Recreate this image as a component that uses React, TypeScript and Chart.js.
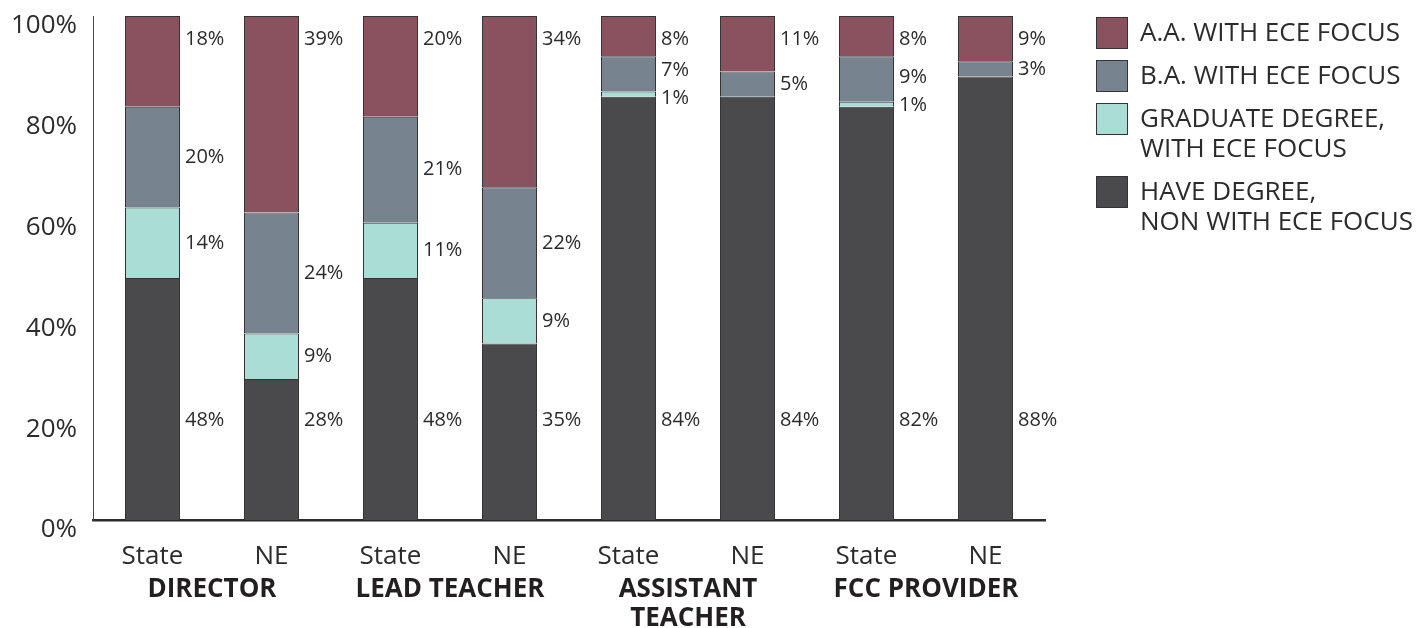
import React, { useEffect, useRef } from "react";
import { Chart, registerables } from "chart.js";

Chart.register(...registerables);

const categories = ["State", "NE", "State", "NE", "State", "NE", "State", "NE"];
const groupLabels: string[][] = [["DIRECTOR"], ["LEAD TEACHER"], ["ASSISTANT", "TEACHER"], ["FCC PROVIDER"]];
const haveDegree = [48, 28, 48, 35, 84, 84, 82, 88];
const graduate = [14, 9, 11, 9, 1, 0, 1, 0];
const baEce = [20, 24, 21, 22, 7, 5, 9, 3];
const aaEce = [18, 39, 20, 34, 8, 11, 8, 9];
const yTicks = [0, 20, 40, 60, 80, 100];

const legendItems: { label: string[]; color: string }[] = [
  { label: ["A.A. WITH ECE FOCUS"], color: "#8a525e" },
  { label: ["B.A. WITH ECE FOCUS"], color: "#77838f" },
  { label: ["GRADUATE DEGREE,", "WITH ECE FOCUS"], color: "#a9ddd6" },
  { label: ["HAVE DEGREE,", "NON WITH ECE FOCUS"], color: "#4a4a4c" },
];

const FONT = "'Open Sans', 'Noto Sans', sans-serif";
const TEXT = "#2b2b2b";

const labelsPlugin = {
  id: "segLabels",
  afterDatasetsDraw(chart: any) {
    const ctx = chart.ctx;
    const yScale = chart.scales.y;
    const n = chart.data.labels.length;
    ctx.save();
    ctx.font = `20px ${FONT}`;
    ctx.fillStyle = TEXT;
    ctx.textAlign = "left";
    ctx.textBaseline = "middle";
    for (let j = 0; j < n; j++) {
      const items: { y: number; text: string; x: number }[] = [];
      let cum = 0;
      chart.data.datasets.forEach((ds: any, i: number) => {
        const v = ds.data[j];
        const meta = chart.getDatasetMeta(i);
        const bar = meta.data[j];
        const x = bar.x + bar.width / 2 + 5;
        if (v > 0) {
          let yv: number;
          if (i === 0) yv = 19.8;
          else if (i === 3) yv = 95.4;
          else yv = cum + v / 2;
          items.push({ y: yScale.getPixelForValue(yv), text: v + "%", x });
        }
        cum += v;
      });
      items.sort((a, b) => a.y - b.y);
      const minGap = 28;
      for (let k = 0; k < items.length - 1; k++) {
        const a = items[k];
        const b = items[k + 1];
        if (b.y - a.y < minGap) {
          const mid = (a.y + b.y) / 2;
          a.y = mid - minGap / 2;
          b.y = mid + minGap / 2;
        }
      }
      items.forEach((it) => ctx.fillText(it.text, it.x, it.y));
    }
    ctx.restore();
  },
  afterDraw(chart: any) {
    const ctx = chart.ctx;
    const xScale = chart.scales.x;
    ctx.save();
    // group labels
    ctx.font = `bold 26px ${FONT}`;
    ctx.fillStyle = "#231f20";
    ctx.textAlign = "center";
    ctx.textBaseline = "middle";
    groupLabels.forEach((lines, g) => {
      const cx = (xScale.getPixelForValue(g * 2) + xScale.getPixelForValue(g * 2 + 1)) / 2;
      lines.forEach((ln, li) => ctx.fillText(ln, cx, 590 + li * 29));
    });
    // legend
    let y = 34;
    const sx = 1096;
    legendItems.forEach((item) => {
      ctx.fillStyle = item.color;
      ctx.fillRect(sx, y - 17, 32, 32);
      ctx.strokeStyle = "#333";
      ctx.lineWidth = 1;
      ctx.strokeRect(sx + 0.5, y - 16.5, 31, 31);
      ctx.fillStyle = TEXT;
      ctx.font = `26px ${FONT}`;
      ctx.textAlign = "left";
      item.label.forEach((ln, li) => ctx.fillText(ln, 1140, y + li * 30));
      y += item.label.length * 30 + 13;
    });
    ctx.restore();
  },
};

export default function App() {
  const ref = useRef<HTMLCanvasElement>(null);
  useEffect(() => {
    if (!ref.current) return;
    const border = "#333333";
    const chart = new Chart(ref.current, {
      type: "bar",
      data: {
        labels: categories,
        datasets: [
          { label: "HAVE DEGREE, NON WITH ECE FOCUS", data: haveDegree, backgroundColor: "#4a4a4c", borderColor: border, borderWidth: 1 },
          { label: "GRADUATE DEGREE, WITH ECE FOCUS", data: graduate, backgroundColor: "#a9ddd6", borderColor: border, borderWidth: 1 },
          { label: "B.A. WITH ECE FOCUS", data: baEce, backgroundColor: "#77838f", borderColor: border, borderWidth: 1 },
          { label: "A.A. WITH ECE FOCUS", data: aaEce, backgroundColor: "#8a525e", borderColor: border, borderWidth: 1 },
        ],
      },
      options: {
        responsive: false,
        animation: false,
        datasets: { bar: { categoryPercentage: 1, barPercentage: 0.462 } },
        layout: { padding: { top: 16, right: 377, left: 0, bottom: 0 } },
        plugins: { legend: { display: false }, tooltip: { enabled: false } },
        scales: {
          x: {
            stacked: true,
            grid: { display: false, drawTicks: false },
            border: { display: true, color: "#2b2b2b", width: 2.5 },
            ticks: { color: TEXT, font: { family: FONT, size: 26 }, padding: 21, maxRotation: 0 },
            afterFit: (s: any) => { s.height = 108; s.paddingLeft = 0; s.paddingRight = 0; },
          } as any,
          y: {
            stacked: true,
            min: 0,
            max: 100,
            afterBuildTicks: (s: any) => { s.ticks = yTicks.map((v) => ({ value: v })); },
            grid: { display: false, drawTicks: false },
            border: { display: true, color: "#444", width: 1 },
            ticks: {
              color: TEXT,
              font: { family: FONT, size: 26 },
              padding: 16,
              labelOffset: 10,
              callback: (v: any) => v + "%",
            },
            afterFit: (s: any) => { s.width = 93; s.paddingTop = 0; s.paddingBottom = 0; },
          } as any,
        },
      },
      plugins: [labelsPlugin],
    });
    return () => chart.destroy();
  }, []);
  return (
    <div style={{ position: "absolute", left: 0, top: 0, width: 1422, height: 628, background: "#fff" }}>
      <canvas ref={ref} width={1422} height={628} />
    </div>
  );
}
